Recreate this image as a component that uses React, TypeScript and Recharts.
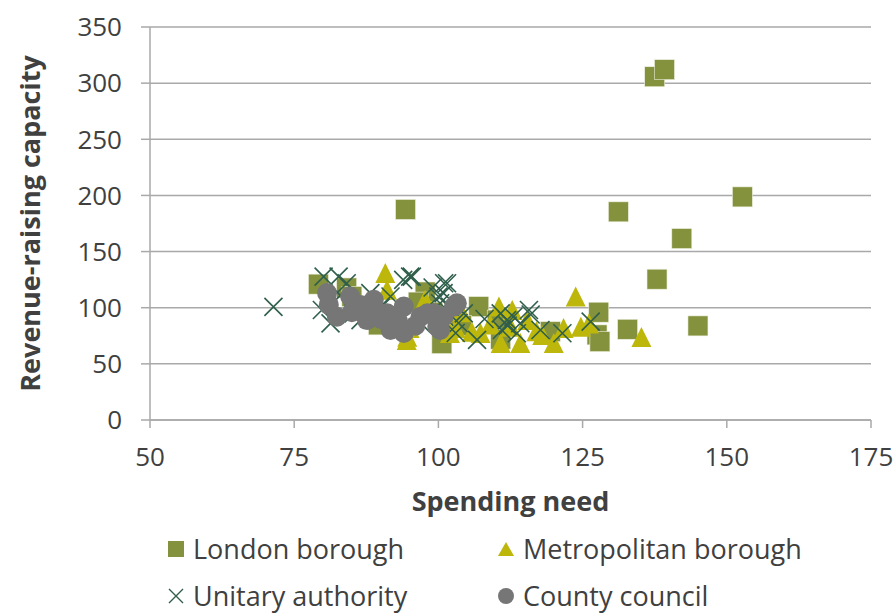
import { CartesianGrid, Scatter, ScatterChart, XAxis, YAxis } from 'recharts';

const xTicks = [50, 75, 100, 125, 150, 175];
const yTicks = [0, 50, 100, 150, 200, 250, 300, 350];

// [spending need, revenue-raising capacity]
const london: [number, number][] = [
  [137.5, 305.7], [139.2, 312], [152.7, 198.7], [131.2, 185.4], [142.2, 161.6],
  [137.9, 125.4], [127.8, 96], [127.5, 75.8], [128, 69.8], [132.8, 80.8],
  [145, 83.8], [94.3, 187.5], [79.2, 121], [84.1, 117.6], [85, 110],
  [97.7, 114], [96.5, 105], [100.6, 68], [107, 101], [110.2, 89],
  [110.8, 72], [119.4, 78.7], [89.6, 84.7], [88, 95], [99, 96], [92, 90], [104, 84],
];

const metropolitan: [number, number][] = [
  [90.8, 131], [91.1, 116], [123.8, 110], [135.2, 74], [126.1, 86],
  [110.5, 101], [112.8, 98], [110.8, 68.6], [107.3, 77.5], [105.8, 78.7],
  [118, 75.8], [120, 68.6], [121.7, 82], [124.7, 83], [94.6, 74.2],
  [97.7, 107], [102, 77.5], [112.5, 83], [114.2, 68.6], [115.4, 89],
  [94.5, 71.3], [97.4, 104], [100, 88], [104, 96], [109, 85], [117, 79], [103, 82], [95, 82],
];

const unitary: [number, number][] = [
  [71.4, 100.7], [80.1, 127.7], [82.7, 127.7], [84.1, 121.8], [79.8, 98],
  [85.3, 95], [81.3, 86], [86.5, 89], [95.1, 127.7], [91.7, 110],
  [101, 121.8], [100.9, 113], [100.3, 104], [100.3, 95], [88.2, 113],
  [95.4, 127.7], [101.5, 121.8], [100, 110], [104.4, 95], [103.5, 86.4],
  [103, 77.5], [106.7, 71.3], [110.8, 95], [111.9, 89], [113, 92],
  [114.2, 86.2], [115.7, 98], [113.6, 77.3], [111, 80.2], [117.7, 80.2],
  [121.5, 77.3], [126.4, 87.6], [93.9, 124.8], [83, 111], [90, 100],
  [97, 86], [108, 90], [112, 84], [116, 94], [101, 92], [99, 118], [102, 101],
];

const county: [number, number][] = [
  [80.7, 113], [81, 102.5], [82.4, 92], [84.7, 110], [86.5, 102.5],
  [87.6, 89], [88.8, 107], [91.1, 95], [91.7, 80.2], [94, 101],
  [94, 77.5], [96.9, 92], [99.2, 95], [100.3, 80.2], [98.1, 95],
  [99.8, 83], [102.7, 101], [103.2, 104], [100.9, 92], [93, 88],
  [85, 96], [90, 90], [96, 84], [89, 98],
];

const toRows = (pts: [number, number][]) => pts.map(([x, y]) => ({ x, y }));

const C_LONDON = '#84913d';
const C_METRO = '#bdb70b';
const C_UNITARY = '#2f5f4b';
const C_COUNTY = '#767676';
const FONT = '"Open Sans", "Noto Sans", sans-serif';
const TEXT = '#404040';
const GRID = '#a9a9a9';

const Square = ({ cx, cy }: any) => (
  <rect x={cx - 10} y={cy - 10} width={20} height={20} fill={C_LONDON} stroke="#eef0e0" strokeWidth={0.6} />
);
const Triangle = ({ cx, cy }: any) => (
  <path d={`M${cx},${cy - 10}L${cx + 10},${cy + 10}L${cx - 10},${cy + 10}Z`} fill={C_METRO} />
);
const Cross = ({ cx, cy }: any) => (
  <path d={`M${cx - 9},${cy - 9}L${cx + 9},${cy + 9}M${cx + 9},${cy - 9}L${cx - 9},${cy + 9}`} stroke={C_UNITARY} strokeWidth={1.6} fill="none" />
);
const Dot = ({ cx, cy }: any) => <circle cx={cx} cy={cy} r={10} fill={C_COUNTY} />;

const legendItems = [
  { label: 'London borough', left: 167, top: 534, icon: <rect x={1} y={1} width={16} height={16} fill={C_LONDON} /> },
  { label: 'Metropolitan borough', left: 497, top: 534, icon: <path d="M9,2L17,16L1,16Z" fill={C_METRO} /> },
  { label: 'Unitary authority', left: 167, top: 581, icon: <path d="M2,2L16,16M16,2L2,16" stroke={C_UNITARY} strokeWidth={1.4} /> },
  { label: 'County council', left: 497, top: 581, icon: <circle cx={9} cy={9} r={8} fill={C_COUNTY} /> },
];

export default function App() {
  const tick = { fontSize: 26, fill: TEXT, fontFamily: FONT };
  return (
    <div style={{ position: 'absolute', left: 0, top: 0, width: 894, height: 613, background: '#fff', fontFamily: FONT, overflow: 'hidden' }}>
      <ScatterChart width={894} height={613} margin={{ top: 27, right: 23, bottom: 0, left: 0 }}>
        <CartesianGrid vertical={false} stroke={GRID} strokeWidth={1.5} />
        <XAxis
          type="number"
          dataKey="x"
          domain={[50, 175]}
          ticks={xTicks}
          height={193}
          tick={tick}
          tickSize={8}
          tickMargin={20}
          stroke={GRID}
          strokeWidth={1.5}
          label={{ value: 'Spending need', position: 'insideTop', offset: 72, style: { fontSize: 27, fontWeight: 700, fill: TEXT, fontFamily: FONT } }}
        />
        <YAxis
          type="number"
          dataKey="y"
          domain={[0, 350]}
          ticks={yTicks}
          width={150}
          tick={tick}
          tickSize={9}
          tickMargin={19}
          stroke={GRID}
          strokeWidth={1.5}
          label={{ value: 'Revenue-raising capacity', angle: -90, position: 'insideLeft', offset: 30, style: { fontSize: 27, fontWeight: 700, fill: TEXT, fontFamily: FONT, textAnchor: 'middle' } }}
        />
        <Scatter data={toRows(london)} shape={Square} isAnimationActive={false} />
        <Scatter data={toRows(metropolitan)} shape={Triangle} isAnimationActive={false} />
        <Scatter data={toRows(unitary)} shape={Cross} isAnimationActive={false} />
        <Scatter data={toRows(county)} shape={Dot} isAnimationActive={false} />
      </ScatterChart>
      {legendItems.map((it) => (
        <div key={it.label} style={{ position: 'absolute', left: it.left, top: it.top, display: 'flex', alignItems: 'center', fontSize: 27, color: TEXT, whiteSpace: 'nowrap', lineHeight: '30px' }}>
          <svg width={18} height={18} style={{ marginRight: 8 }}>{it.icon}</svg>
          {it.label}
        </div>
      ))}
    </div>
  );
}
